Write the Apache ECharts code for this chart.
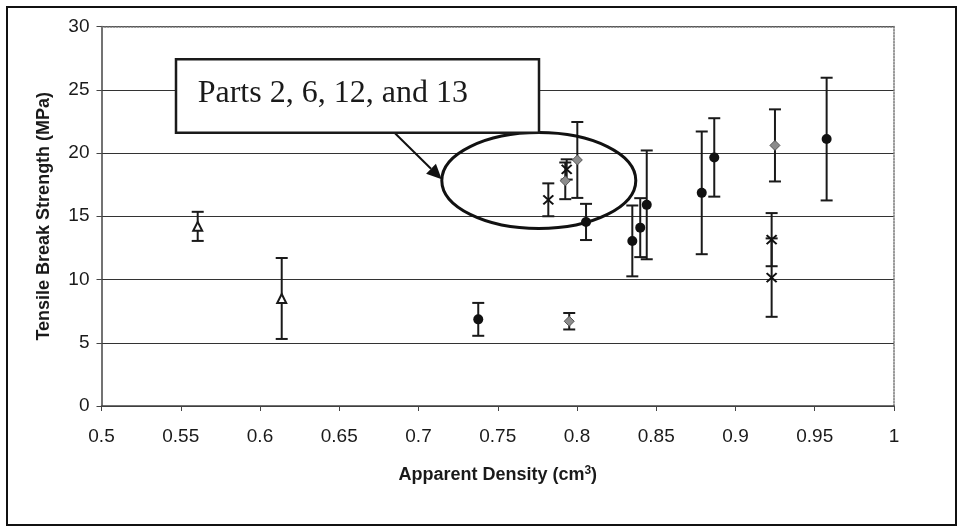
<!DOCTYPE html>
<html>
<head>
<meta charset="utf-8">
<script src="https://cdn.jsdelivr.net/npm/echarts@6/dist/echarts.min.js"></script>
<style>html,body{margin:0;padding:0;background:#fff}#c{width:963px;height:532px}</style>
</head>
<body>
<div id="c"></div>
<script>
// Filled circles
var circleX = [0.7377, 0.8057, 0.8349, 0.8399, 0.8440, 0.8787, 0.8866, 0.9575];
var circleY = [6.85, 14.55, 13.05, 14.1, 15.9, 16.85, 19.65, 21.1];
var circleErr = [1.3, 1.43, 2.8, 2.33, 4.3, 4.85, 3.1, 4.85];
// Grey diamonds
var diamondX = [0.7951, 0.7926, 0.8002, 0.9249];
var diamondY = [6.7, 17.8, 19.45, 20.6];
var diamondErr = [0.65, 1.45, 3.0, 2.85];
// Crosses
var crossX = [0.7819, 0.7935, 0.9228, 0.9228];
var crossY = [16.3, 18.7, 13.15, 10.15];
var crossErr = [1.3, 0.8, 2.1, 3.1];
// Open triangles
var triX = [0.5607, 0.6137];
var triY = [14.2, 8.5];
var triErr = [1.15, 3.2];

var xTicks = [0.5, 0.55, 0.6, 0.65, 0.7, 0.75, 0.8, 0.85, 0.9, 0.95, 1];
var yTicks = [0, 5, 10, 15, 20, 25, 30];

var xTitle = 'Apparent Density (cm{sup|3})';
var yTitle = 'Tensile Break Strength (MPa)';
var noteText = 'Parts 2, 6, 12, and 13';

function pts(xs, ys) { return xs.map(function (x, i) { return [x, ys[i]]; }); }
function errs(xs, ys, es) { return xs.map(function (x, i) { return [x, ys[i] - es[i], ys[i] + es[i]]; }); }

var allErr = errs(circleX, circleY, circleErr)
  .concat(errs(diamondX, diamondY, diamondErr))
  .concat(errs(crossX, crossY, crossErr))
  .concat(errs(triX, triY, triErr));

function renderErr(params, api) {
  var lo = api.coord([api.value(0), api.value(1)]);
  var hi = api.coord([api.value(0), api.value(2)]);
  var h = 6;
  var st = { stroke: '#1a1a1a', lineWidth: 2 };
  return {
    type: 'group',
    children: [
      { type: 'line', shape: { x1: lo[0], y1: lo[1], x2: hi[0], y2: hi[1] }, style: st },
      { type: 'line', shape: { x1: lo[0] - h, y1: lo[1], x2: lo[0] + h, y2: lo[1] }, style: st },
      { type: 'line', shape: { x1: hi[0] - h, y1: hi[1], x2: hi[0] + h, y2: hi[1] }, style: st }
    ]
  };
}

var chart = echarts.init(document.getElementById('c'));
var font = 'Liberation Sans, Arial, sans-serif';

// arrow geometry (annotation)
var aStart = [395, 133.3], aTip = [441.7, 179.3];
var dx = aTip[0] - aStart[0], dy = aTip[1] - aStart[1];
var L = Math.sqrt(dx * dx + dy * dy); var ux = dx / L, uy = dy / L;
var hl = 15, hw = 7;
var bx = aTip[0] - hl * ux, by = aTip[1] - hl * uy;

chart.setOption({
  animation: false,
  backgroundColor: '#fff',
  grid: { left: 101.5, right: 69, top: 26.5, bottom: 126, containLabel: false },
  xAxis: [{
    type: 'value', min: 0.5, max: 1, interval: 0.05,
    name: xTitle, nameLocation: 'middle', nameGap: 59,
    nameTextStyle: {
      fontFamily: font, fontWeight: 'bold', fontSize: 18, color: '#1a1a1a',
      rich: { sup: { fontFamily: font, fontWeight: 'bold', fontSize: 12, verticalAlign: 'top', padding: [0, 0, 9, 0], color: '#1a1a1a' } }
    },
    axisLine: { show: true, onZero: false, lineStyle: { color: '#444', width: 1.5 } },
    axisTick: { show: true, inside: false, length: 5, lineStyle: { color: '#444', width: 1 } },
    axisLabel: { fontFamily: font, fontSize: 19, color: '#1a1a1a', margin: 21,
      formatter: function (v) { return String(Math.round(v * 100) / 100); } },
    splitLine: { show: false }
  }, {
    type: 'value', position: 'top', min: 0.5, max: 1,
    axisLine: { show: true, onZero: false, lineStyle: { color: '#777', width: 1.5, type: 'dotted' } },
    axisTick: { show: false }, axisLabel: { show: false }, splitLine: { show: false }
  }],
  yAxis: [{
    type: 'value', min: 0, max: 30, interval: 5,
    name: yTitle, nameLocation: 'middle', nameGap: 48, nameRotate: 90,
    nameTextStyle: { fontFamily: font, fontWeight: 'bold', fontSize: 18, color: '#1a1a1a' },
    axisLine: { show: true, onZero: false, lineStyle: { color: '#444', width: 1.5 } },
    axisTick: { show: true, inside: false, length: 5, lineStyle: { color: '#444', width: 1 } },
    axisLabel: { fontFamily: font, fontSize: 19, color: '#1a1a1a', margin: 12 },
    splitLine: { show: true, lineStyle: { color: '#333', width: 1.2 } }
  }, {
    type: 'value', position: 'right', min: 0, max: 30,
    axisLine: { show: true, onZero: false, lineStyle: { color: '#777', width: 1.5, type: 'dotted' } },
    axisTick: { show: false }, axisLabel: { show: false }, splitLine: { show: false }
  }],
  series: [
    { type: 'custom', renderItem: renderErr, data: allErr, encode: { x: 0, y: [1, 2] }, z: 3, silent: true },
    { type: 'scatter', data: pts(triX, triY), symbol: 'triangle', symbolSize: [9, 9],
      itemStyle: { color: '#fff', borderColor: '#1a1a1a', borderWidth: 2, opacity: 1 }, z: 5 },
    { type: 'scatter', data: pts(circleX, circleY), symbol: 'circle', symbolSize: 10,
      itemStyle: { color: '#111', opacity: 1 }, z: 5 },
    { type: 'scatter', data: pts(diamondX, diamondY), symbol: 'diamond', symbolSize: [10, 10],
      itemStyle: { color: '#8c8c8c', borderColor: '#555', borderWidth: 1, opacity: 1 }, z: 5 },
    { type: 'scatter', data: pts(crossX, crossY), symbol: 'path://M0,0L10,10M10,0L0,10', symbolSize: [10, 9],
      itemStyle: { color: 'none', borderColor: '#111', borderWidth: 2, opacity: 1 }, z: 5 }
  ],
  graphic: [
    { type: 'rect', z: 0, silent: true, shape: { x: 7, y: 7, width: 949, height: 518 },
      style: { fill: 'none', stroke: '#111', lineWidth: 2 } },
    { type: 'ellipse', z: 100, silent: true, shape: { cx: 538.8, cy: 180.5, rx: 97, ry: 48 },
      style: { fill: 'none', stroke: '#111', lineWidth: 3 } },
    { type: 'line', z: 100, silent: true, shape: { x1: aStart[0], y1: aStart[1], x2: bx, y2: by },
      style: { stroke: '#111', lineWidth: 2 } },
    { type: 'polygon', z: 100, silent: true,
      shape: { points: [[aTip[0], aTip[1]], [bx - hw * uy, by + hw * ux], [bx + hw * uy, by - hw * ux]] },
      style: { fill: '#111' } },
    { type: 'rect', z: 101, silent: true, shape: { x: 176, y: 59.3, width: 363, height: 73.4 },
      style: { fill: '#fff', stroke: '#1a1a1a', lineWidth: 2.5 } },
    { type: 'text', z: 102, silent: true, x: 197.7, y: 78,
      style: { text: noteText, font: '32px "Liberation Serif", "Times New Roman", serif', fill: '#1a1a1a', verticalAlign: 'top' } }
  ]
});
</script>
</body>
</html>
